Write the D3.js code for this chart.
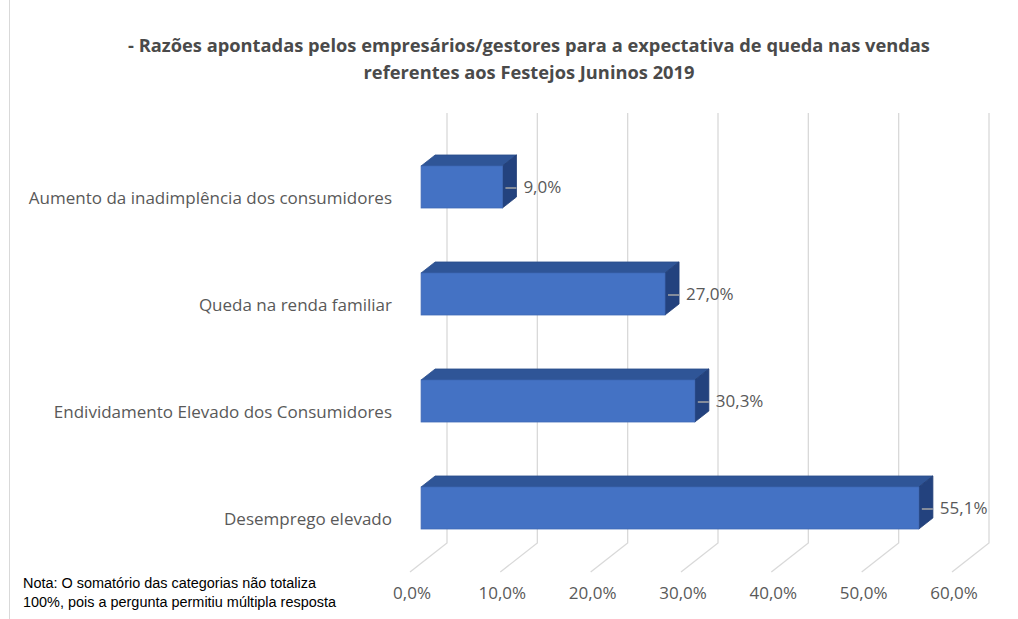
<!DOCTYPE html>
<html><head><meta charset="utf-8">
<script src="https://cdn.jsdelivr.net/npm/d3@7/dist/d3.min.js"></script>
<style>
html,body{margin:0;padding:0;background:#fff;}
svg{display:block;}
</style></head>
<body>
<svg id="c" width="1018" height="619"></svg>
<script>
const categories = [
  "Aumento da inadimplência dos consumidores",
  "Queda na renda familiar",
  "Endividamento Elevado dos Consumidores",
  "Desemprego elevado"
];
const values = [9.0, 27.0, 30.3, 55.1];
const valueLabels = ["9,0%", "27,0%", "30,3%", "55,1%"];
const ticks = [0, 10, 20, 30, 40, 50, 60];
const tickLabels = ["0,0%", "10,0%", "20,0%", "30,0%", "40,0%", "50,0%", "60,0%"];
const titleLines = [
  "- Razões apontadas pelos empresários/gestores para a expectativa de queda nas vendas",
  "referentes aos Festejos Juninos 2019"
];
const noteLines = [
  "Nota: O somatório das categorias não totaliza",
  "100%, pois a pergunta permitiu múltipla resposta"
];

const svg = d3.select("#c");
const W = 1018, H = 619;

// light frame line on the left
svg.append("line").attr("x1", 9.5).attr("x2", 9.5).attr("y1", 0).attr("y2", H)
  .attr("stroke", "#d9d9d9").attr("stroke-width", 1);

// 3D geometry
const backX0 = 447, backY = 543, wallTop = 113;
const depthDX = -37, depthDY = 29; // back -> front of floor
const x = d3.scaleLinear().domain([0, 60]).range([0, 542]);
const barFrontDepth = 0.70, barBackDepth = 0.32;
const y = d3.scalePoint().domain(categories).range([187, 508]);
const barH = 42;
const FONT = "Open Sans, sans-serif";

// gridlines: back wall verticals + floor diagonals
const grid = svg.append("g").attr("stroke", "#d9d9d9").attr("stroke-width", 1.3).attr("fill", "none");
ticks.forEach(t => {
  const bx = backX0 + x(t);
  grid.append("path").attr("d",
    `M${bx},${wallTop} L${bx},${backY} L${bx + depthDX},${backY + depthDY}`);
});

// tick labels
svg.append("g").selectAll("text").data(ticks).join("text")
  .attr("x", (t) => backX0 + depthDX + x(t) + 2)
  .attr("y", 599)
  .attr("text-anchor", "middle")
  .attr("font-family", FONT)
  .attr("font-size", 17)
  .attr("fill", "#595959")
  .text((t, i) => tickLabels[i]);

// bars
const fx0 = backX0 + depthDX * barFrontDepth; // front face left x
const bx0 = backX0 + depthDX * barBackDepth;
const ddx = bx0 - fx0;
const ddy = depthDY * (barFrontDepth - barBackDepth);

const bars = svg.append("g");
categories.forEach((c, i) => {
  const v = values[i];
  const xl = fx0, xr = fx0 + x(v);
  const yt = y(c) - barH / 2, yb = y(c) + barH / 2;
  const g = bars.append("g");
  g.append("path").attr("d",
    `M${xl},${yt} L${xl + ddx},${yt - ddy} L${xr + ddx},${yt - ddy} L${xr},${yt} Z`)
    .attr("fill", "#2f5597").attr("stroke", "#2a4d8a").attr("stroke-width", 0.8);
  g.append("path").attr("d",
    `M${xr},${yt} L${xr + ddx},${yt - ddy} L${xr + ddx},${yb - ddy} L${xr},${yb} Z`)
    .attr("fill", "#23427e").attr("stroke", "#213e76").attr("stroke-width", 0.8);
  g.append("rect").attr("x", xl).attr("y", yt).attr("width", xr - xl).attr("height", barH)
    .attr("fill", "#4472c4").attr("stroke", "#3f69b6").attr("stroke-width", 0.8);
  g.append("line").attr("x1", xr + 3).attr("x2", xr + 14)
    .attr("y1", y(c) + 1).attr("y2", y(c) + 1)
    .attr("stroke", "#a6a6a6").attr("stroke-width", 1.5);
  g.append("text").attr("x", xr + 21).attr("y", y(c) + 6)
    .attr("font-family", FONT).attr("font-size", 17)
    .attr("fill", "#595959").text(valueLabels[i]);
});

// category labels
svg.append("g").selectAll("text").data(categories).join("text")
  .attr("x", 392).attr("y", d => y(d) + 17)
  .attr("text-anchor", "end")
  .attr("font-family", FONT)
  .attr("font-size", 17)
  .attr("fill", "#595959")
  .text(d => d);

// title
svg.append("g").selectAll("text").data(titleLines).join("text")
  .attr("x", 529).attr("y", (d, i) => 52 + i * 27)
  .attr("text-anchor", "middle")
  .attr("font-family", FONT)
  .attr("font-weight", "bold")
  .attr("font-size", 18.3)
  .attr("fill", "#4a4a4a")
  .text(d => d);

// note
const noteW = [293, 313];
svg.append("g").selectAll("text").data(noteLines).join("text")
  .attr("x", 23).attr("y", (d, i) => 588 + i * 19)
  .attr("font-family", "Liberation Sans, Arial, sans-serif")
  .attr("font-size", 15.5)
  .attr("textLength", (d, i) => noteW[i])
  .attr("lengthAdjust", "spacingAndGlyphs")
  .attr("fill", "#000")
  .text(d => d);
</script>
</body></html>
